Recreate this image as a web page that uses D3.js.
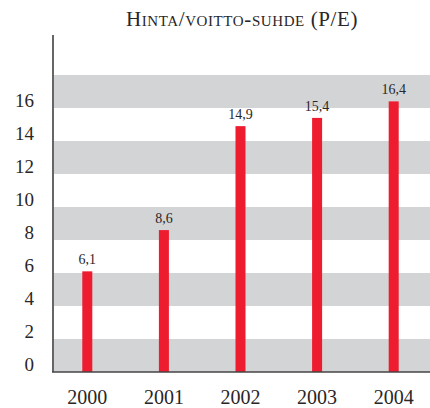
<!DOCTYPE html>
<html>
<head>
<meta charset="utf-8">
<script src="https://cdn.jsdelivr.net/npm/d3@7"></script>
<style>
  body { margin: 0; background: #fff; }
  text { font-family: "Liberation Serif", "DejaVu Serif", serif; fill: #2a2627; }
</style>
</head>
<body>
<div id="chart"></div>
<script>
//categories and values
const years = ['2000', '2001', '2002', '2003', '2004']
const peValues = [6.1, 8.6, 14.9, 15.4, 16.4]
const peLabels = ['6,1', '8,6', '14,9', '15,4', '16,4']
const yTicks = [0, 2, 4, 6, 8, 10, 12, 14, 16]
//gray stripes, [from, to] in y units
const stripes = [[0, 2], [4, 6], [8, 10], [12, 14], [16, 18]]

const width = 430, height = 408

const svg = d3.select("#chart")
  .append("svg")
    .attr("width", width)
    .attr("height", height)

//scales
const x = d3.scalePoint()
  .domain(years)
  .range([49, 432])
  .padding(0.5)

const y = d3.scaleLinear()
  .domain([0, 18])
  .range([372, 75])

const axisX = 53

//stripes
svg.append("g")
  .selectAll("rect")
  .data(stripes)
  .join("rect")
    .attr("x", axisX)
    .attr("y", d => y(d[1]))
    .attr("width", width - axisX)
    .attr("height", d => y(d[0]) - y(d[1]))
    .style("fill", "#d3d4d6")

//bars
const barW = 10
svg.append("g")
  .selectAll("rect")
  .data(peValues)
  .join("rect")
    .attr("x", (d, i) => x(years[i]) - barW / 2)
    .attr("y", d => y(d))
    .attr("width", barW)
    .attr("height", d => y(0) - y(d))
    .style("fill", "#ed1c2e")

//value labels
svg.append("g")
  .selectAll("text")
  .data(peValues)
  .join("text")
    .attr("x", (d, i) => x(years[i]))
    .attr("y", d => y(d) - 7)
    .attr("text-anchor", "middle")
    .style("font-size", "14px")
    .text((d, i) => peLabels[i])

//y axis line
svg.append("line")
  .attr("x1", axisX).attr("x2", axisX)
  .attr("y1", 35).attr("y2", y(0))
  .style("stroke", "#666")
  .style("stroke-width", 2)

//x axis line
svg.append("line")
  .attr("x1", axisX - 1).attr("x2", width)
  .attr("y1", y(0)).attr("y2", y(0))
  .style("stroke", "#444")
  .style("stroke-width", 1.5)

//y tick labels
svg.append("g")
  .selectAll("text")
  .data(yTicks)
  .join("text")
    .attr("x", 34)
    .attr("y", d => y(d) - 1)
    .attr("text-anchor", "end")
    .style("font-size", "19px")
    .text(d => d)

//x tick labels
svg.append("g")
  .selectAll("text")
  .data(years)
  .join("text")
    .attr("x", d => x(d))
    .attr("y", 404)
    .attr("text-anchor", "middle")
    .style("font-size", "20px")
    .text(d => d)

//title
svg.append("text")
  .attr("x", 242)
  .attr("y", 26)
  .attr("text-anchor", "middle")
  .style("font-size", "21px")
  .style("letter-spacing", "0.6px")
  .style("font-variant", "small-caps")
  .text("Hinta/voitto-suhde (P/E)")
</script>
</body>
</html>
